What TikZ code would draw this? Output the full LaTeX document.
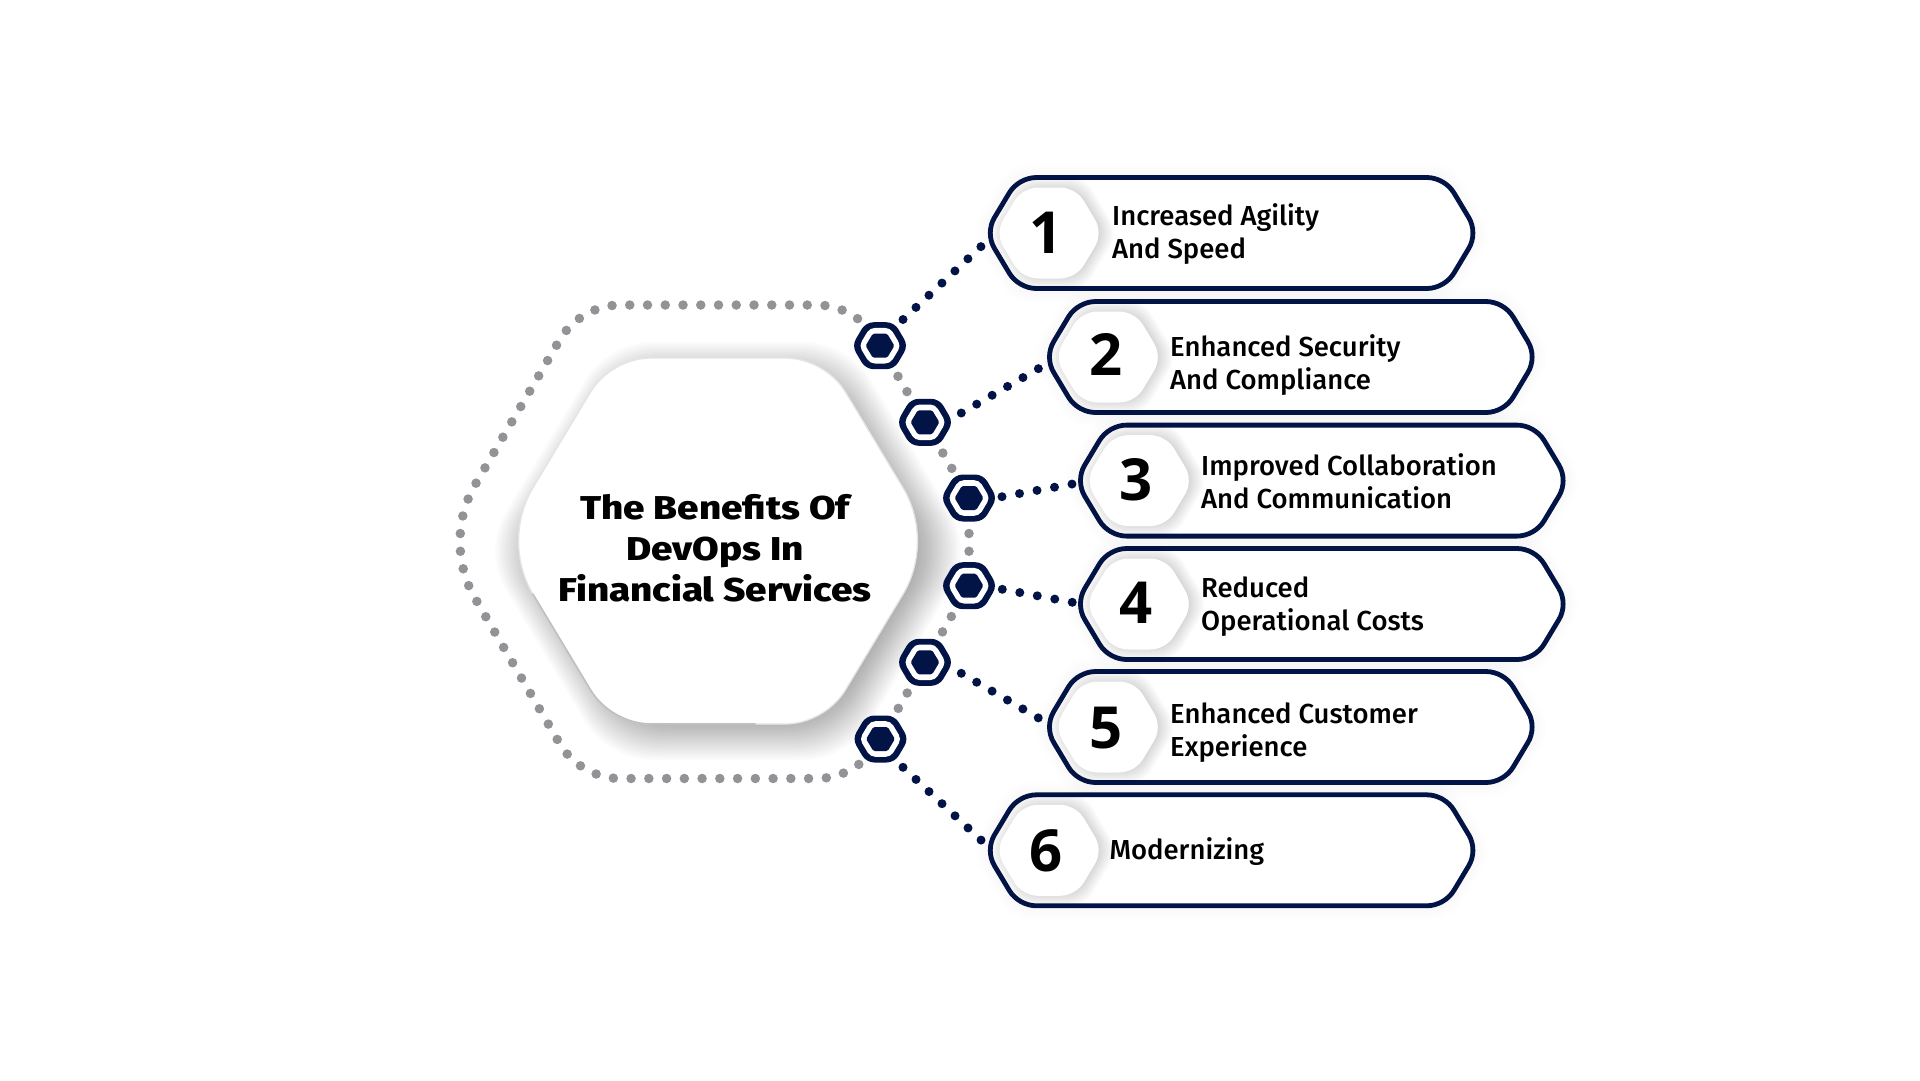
\documentclass[tikz,border=0pt]{standalone}
\usepackage{fontspec}
\usetikzlibrary{calc}
\setmainfont{Fira Sans}
\newfontfamily\bodyf{Fira Sans Medium}
\newfontfamily\titlef{Fira Sans ExtraBold}[FakeStretch=1.17]
\newfontfamily\numf{Open Sans}[BoldFont=* Bold]
\definecolor{navy}{HTML}{021345}
\definecolor{dotgrey}{HTML}{929297}
\tikzset{
  greydots/.style={draw=dotgrey,line width=9.5pt,line cap=round,dash pattern=on 0pt off 17.75pt},
  navydots/.style={draw=navy,line width=9pt,line cap=round,dash pattern=on 0pt off 17.78pt},
  pillline/.style={draw=navy,line width=4.8pt,fill=white},
  bodytext/.style={anchor=base west,text=black,font=\bodyf\fontsize{27.5}{33}\selectfont,inner sep=0pt,align=left},
  numtext/.style={text=black,font=\numf\bfseries\fontsize{58}{58}\selectfont,inner sep=0pt},
  titletext/.style={text=black,font=\titlef\fontsize{33}{41}\selectfont,inner sep=0pt,align=center},
}
\newcommand\crn[4]{-- ($(#2)!#4pt!(#1)$) .. controls ($(#2)!{0.4*#4pt}!(#1)$) and ($(#2)!{0.4*#4pt}!(#3)$) .. ($(#2)!#4pt!(#3)$)}
\newcommand\sethex[5]{%
  \coordinate (hA) at ({#1-#5},{#2-#4});
  \coordinate (hB) at ({#1+#5},{#2-#4});
  \coordinate (hC) at ({#1+#3},{#2});
  \coordinate (hD) at ({#1+#5},{#2+#4});
  \coordinate (hE) at ({#1-#5},{#2+#4});
  \coordinate (hF) at ({#1-#3},{#2});
  \coordinate (hM) at ({#1},{#2-#4});
}
\newcommand\hexpath[2]{(hM) \crn{hA}{hB}{hC}{#1} \crn{hB}{hC}{hD}{#2} \crn{hC}{hD}{hE}{#1} \crn{hD}{hE}{hF}{#1} \crn{hE}{hF}{hA}{#2} \crn{hF}{hA}{hB}{#1} -- cycle}
\newcommand\softshadow[9]{%
  \foreach \i in {-#7,...,#7}{%
    \sethex{#1}{#2}{\fpeval{#3+\i*#8*1.1}}{\fpeval{#4+\i*#8}}{\fpeval{#5+\i*#8*0.5}}
    \path[fill=black,opacity=#9] \hexpath{#6}{#6};
  }%
}
\newcommand\pillshadow[2]{%
  \softshadow{\fpeval{#1+243}}{#2}{246.4}{55.5}{213.1}{18}{7}{2}{0.004}
}
\newcommand\pillshape[2]{% left outer x, centre y
  \sethex{\fpeval{#1+243}}{#2}{246.4}{55.5}{213.1}
  \path[pillline] \hexpath{18}{18};
  \softshadow{\fpeval{#1+63.5}}{#2}{54}{45.5}{26.7}{16}{6}{1.8}{0.018}
  \sethex{\fpeval{#1+60.5}}{#2}{54}{45.5}{26.7}
  \path[fill=white] \hexpath{16}{16};
}
\newcommand\smallhex[1]{%
  \path let \p1=(#1) in \pgfextra{\pgfmathsetmacro\hx{\x1/1pt}\pgfmathsetmacro\hy{-\y1/1pt}\global\let\hx\hx\global\let\hy\hy};
  \sethex{\hx}{\hy}{28.2}{23.5}{14.1}
  \path[fill=navy] \hexpath{8}{8};
  \sethex{\hx}{\hy}{20.9}{17.8}{10.2}
  \path[fill=white] \hexpath{5}{5};
  \sethex{\hx}{\hy}{14.4}{12}{7.2}
  \path[fill=navy] \hexpath{1.5}{1.5};
}
\begin{document}
\begin{tikzpicture}[x=1pt,y=-1pt]
\useasboundingbox (0,0) rectangle (1920,1080);
\fill[white] (0,0) rectangle (1920,1080);
% central hexagon
\softshadow{728}{551}{217}{183}{107}{45}{13}{2}{0.017}
\sethex{718}{541}{217}{183}{107}
\path[fill=white] \hexpath{40}{62};
\draw[line width=1.3pt,draw=black!10] \hexpath{40}{62};
\draw[line width=1.6pt,draw=black!25,line cap=round]
  ($(hF)!62pt!(hE)$) -- ($(hE)!40pt!(hF)$) .. controls ($(hE)!16pt!(hF)$) and ($(hE)!16pt!(hD)$) .. ($(hE)!40pt!(hD)$) -- ($(hD)!70pt!(hE)$);
\node[titletext] (title) at (715,548.5) {The Benefits Of\\DevOps In\\Financial Services};
% small hexagon positions
\coordinate (h1) at (880,345.7);
\coordinate (h2) at (925,422.3);
\coordinate (h3) at (969,498);
\coordinate (h4) at (969,585.7);
\coordinate (h5) at (925,662.3);
\coordinate (h6) at (880.5,739);
% grey dotted ring
\coordinate (o1) at (857,305);
\coordinate (o2) at (580,305);
\coordinate (o3) at (442,541.5);
\coordinate (o4) at (580,778.5);
\coordinate (o5) at (857,778.5);
\draw[greydots] (h1) \crn{h1}{o1}{o2}{40} \crn{o1}{o2}{o3}{40} \crn{o2}{o3}{o4}{65} \crn{o3}{o4}{o5}{40} \crn{o4}{o5}{h6}{40} -- (h6);
\draw[greydots] (h1) -- (h2);
\draw[greydots] (h2) -- (h3);
\draw[greydots] (h3) -- (h4);
\draw[greydots] (h4) -- (h5);
\draw[greydots] (h5) -- (h6);
% navy connectors
\coordinate (a1) at (903,319.5);   \coordinate (b1) at (981.6,246);
\coordinate (a2) at (961.3,413);   \coordinate (b2) at (1039,368.3);
\coordinate (a3) at (1002,496.7);  \coordinate (b3) at (1072.3,484);
\coordinate (a4) at (1002.3,589.3);\coordinate (b4) at (1072.3,602.3);
\coordinate (a5) at (961.3,673.3); \coordinate (b5) at (1039,718.3);
\coordinate (a6) at (903,767.3);   \coordinate (b6) at (981.7,840.7);
\foreach \k in {1,...,6}{ \draw[navydots] (a\k) -- (b\k); }
\foreach \k in {1,...,6}{ \smallhex{h\k} }
% pills
\pillshadow{988.6}{233}
\pillshadow{1047.8}{357}
\pillshadow{1078.8}{480.6}
\pillshadow{1078.8}{604}
\pillshadow{1047.8}{727}
\pillshadow{988.6}{850.3}
\pillshape{988.6}{233}
\pillshape{1047.8}{357}
\pillshape{1078.8}{480.6}
\pillshape{1078.8}{604}
\pillshape{1047.8}{727}
\pillshape{988.6}{850.3}
\node[numtext] (n1) at (1046,232.6) {1};
\node[numtext] (n2) at (1106.5,354) {2};
\node[numtext] (n3) at (1136,480) {3};
\node[numtext] (n4) at (1136,603) {4};
\node[numtext] (n5) at (1106.5,728) {5};
\node[numtext] (n6) at (1046.5,851) {6};
\node[bodytext] (t1) at (1112,258) {Increased Agility\\And Speed};
\node[bodytext] (t2) at (1170,389) {Enhanced Security\\And Compliance};
\node[bodytext] (t3) at (1201,508) {Improved Collaboration\\And Communication};
\node[bodytext] (t4) at (1201,630.5) {Reduced\\Operational Costs};
\node[bodytext] (t5) at (1170,756.5) {Enhanced Customer\\Experience};
\node[bodytext] (t6) at (1109.4,859) {Modernizing};
\end{tikzpicture}
\end{document}
